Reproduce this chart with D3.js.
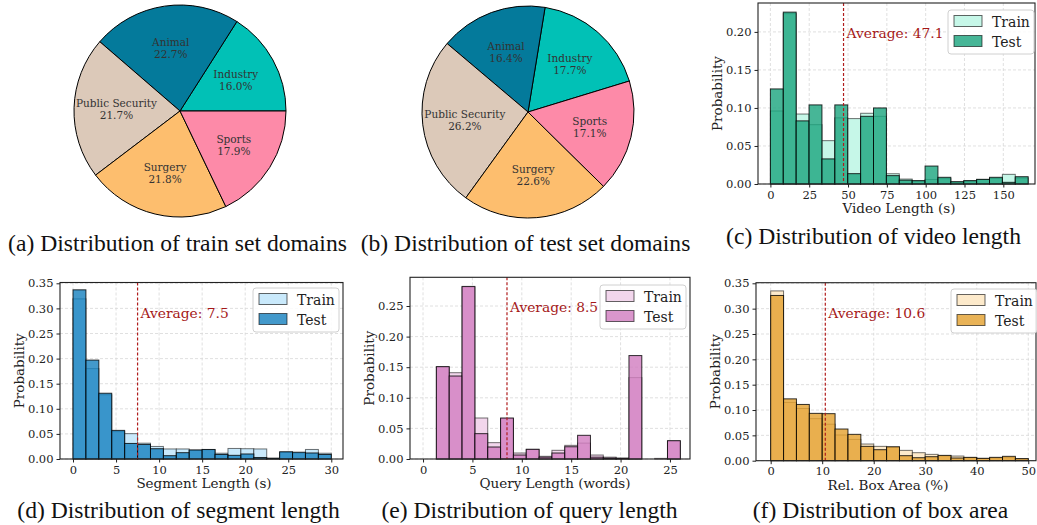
<!DOCTYPE html>
<html>
<head>
<meta charset="utf-8">
<script src="https://cdn.jsdelivr.net/npm/d3@7"></script>
<style>
body { margin: 0; background: #fff; }
</style>
</head>
<body>
<script>
var w = 1037;
var h = 525;

// pie data (matplotlib order, counter-clockwise)
var domains = ['Industry', 'Animal', 'Public Security', 'Surgery', 'Sports'];
var domainColors = ['#01c1b6', '#047a9b', '#dcc9b9', '#fdbe6e', '#fd8aa8'];
var trainShare = [16.0, 22.7, 21.7, 21.8, 17.9];
var testShare = [17.7, 16.4, 26.2, 22.6, 17.1];

// histogram data: first bin edge, bin width, probabilities per bin
var videoStart = 0, videoWidth = 8.3;
var videoTrain = [0.096, 0.224, 0.092, 0.078, 0.057, 0.087, 0.086, 0.093, 0.089, 0.0135, 0.0065, 0.004, 0.006, 0.007, 0.0026, 0.004, 0.006, 0.0074, 0.0127, 0.0079];
var videoTest  = [0.125, 0.226, 0.083, 0.104, 0.033, 0.104, 0.0136, 0.089, 0.100, 0.011, 0.005, 0.0044, 0.0236, 0.0088, 0.003, 0.0044, 0.0061, 0.0088, 0.0022, 0.0096];
var videoAvg = 47.1;

var segStart = 0, segWidth = 1.5;
var segTrain = [0.319, 0.180, 0.128, 0.0545, 0.0505, 0.0315, 0.025, 0.020, 0.020, 0.0175, 0.0185, 0.0115, 0.021, 0.0205, 0.020, 0.002, 0.013, 0.012, 0.019, 0.0115];
var segTest  = [0.337, 0.197, 0.131, 0.057, 0.031, 0.029, 0.0205, 0.0066, 0.0126, 0.018, 0.019, 0.009, 0.0073, 0.010, 0.003, 0.001, 0.0145, 0.0135, 0.012, 0.009];
var segAvg = 7.5;

var queryStart = 1.35, queryWidth = 1.3;
var queryTrain = [0.150, 0.141, 0.281, 0.067, 0.0267, 0.066, 0.0098, 0.0158, 0.0044, 0.0142, 0.0223, 0.026, 0.0065, 0.003, 0.0016, 0.133, 0, 0.001, 0.029];
var queryTest  = [0.151, 0.1356, 0.282, 0.0414, 0.0196, 0.067, 0.0065, 0.0158, 0.003, 0.0098, 0.020, 0.0387, 0.003, 0.0015, 0.001, 0.169, 0, 0, 0.030];
var queryAvg = 8.5;

var boxStart = 0, boxWidth = 2.5;
var boxTrain = [0.335, 0.115, 0.103, 0.083, 0.072, 0.0507, 0.042, 0.0329, 0.0283, 0.026, 0.0204, 0.0158, 0.0125, 0.0095, 0.0092, 0.006, 0.0046, 0.0053, 0.006, 0.004];
var boxTest  = [0.326, 0.122, 0.111, 0.0934, 0.0928, 0.0625, 0.052, 0.0283, 0.0217, 0.0276, 0.0099, 0.0059, 0.0079, 0.0105, 0.0053, 0.0066, 0.0046, 0.0066, 0.0086, 0.004];
var boxAvg = 10.6;

var captions = ['(a) Distribution of train set domains', '(b) Distribution of test set domains',
                '(c) Distribution of video length', '(d) Distribution of segment length',
                '(e) Distribution of query length', '(f) Distribution of box area'];

var serif = '"DejaVu Serif", serif';

var svg = d3.select('body').append('svg')
    .attr('width', w)
    .attr('height', h);

function drawPie(cx, cy, r, shares, startDeg) {
    var a0 = (90 - startDeg) * Math.PI / 180;
    var pie = d3.pie().sort(null).startAngle(a0).endAngle(a0 - 2 * Math.PI);
    var arcs = pie(shares);
    var arc = d3.arc().innerRadius(0).outerRadius(r);
    var lab = d3.arc().innerRadius(r * 0.6).outerRadius(r * 0.6);
    var g = svg.append('g').attr('transform', 'translate(' + cx + ',' + cy + ')');
    g.selectAll('path').data(arcs).enter().append('path')
        .attr('d', arc)
        .attr('fill', function(d, i) { return domainColors[i]; })
        .attr('stroke', '#000')
        .attr('stroke-width', 1);
    var t = g.selectAll('text').data(arcs).enter().append('text')
        .attr('text-anchor', 'middle')
        .style('font-family', serif)
        .style('font-size', '10.5px')
        .attr('fill', '#333')
        .attr('transform', function(d) { return 'translate(' + lab.centroid(d) + ')'; });
    t.append('tspan').attr('x', 0).attr('y', -2).text(function(d, i) { return domains[i]; });
    t.append('tspan').attr('x', 0).attr('y', 10).text(function(d) { return d.data.toFixed(1) + '%'; });
}

drawPie(180, 111, 106, trainShare, 0);
drawPie(528, 112, 106, testShare, 17);

function hist(o) {
    var x = d3.scaleLinear().domain(o.xDomain).range([o.left, o.right]);
    var y = d3.scaleLinear().domain(o.yDomain).range([o.bottom, o.top]);
    var g = svg.append('g');

    // grid
    g.selectAll('.gx').data(o.xTicks).enter().append('line')
        .attr('x1', x).attr('x2', x).attr('y1', o.top).attr('y2', o.bottom)
        .attr('stroke', '#d8d8d8').attr('stroke-dasharray', '3,2').attr('stroke-width', 0.8);
    g.selectAll('.gy').data(o.yTicks).enter().append('line')
        .attr('y1', y).attr('y2', y).attr('x1', o.left).attr('x2', o.right)
        .attr('stroke', '#d8d8d8').attr('stroke-dasharray', '3,2').attr('stroke-width', 0.8);

    var bins = o.train.map(function(v, i) {
        return { x0: o.start + i * o.width, x1: o.start + (i + 1) * o.width, tr: v, te: o.test[i] };
    });

    g.selectAll('.tr').data(bins.filter(function(d) { return d.tr > 0; })).enter().append('rect')
        .attr('x', function(d) { return x(d.x0); })
        .attr('width', function(d) { return x(d.x1) - x(d.x0); })
        .attr('y', function(d) { return y(d.tr); })
        .attr('height', function(d) { return y(0) - y(d.tr); })
        .attr('fill', o.trainColor)
        .attr('stroke', '#000').attr('stroke-opacity', 0.55).attr('stroke-width', 1);

    g.selectAll('.te').data(bins.filter(function(d) { return d.te > 0; })).enter().append('rect')
        .attr('x', function(d) { return x(d.x0); })
        .attr('width', function(d) { return x(d.x1) - x(d.x0); })
        .attr('y', function(d) { return y(d.te); })
        .attr('height', function(d) { return y(0) - y(d.te); })
        .attr('fill', o.testColor).attr('fill-opacity', 0.82)
        .attr('stroke', '#000').attr('stroke-opacity', 0.8).attr('stroke-width', 1);

    // average line
    g.append('line')
        .attr('x1', x(o.avg)).attr('x2', x(o.avg))
        .attr('y1', o.top).attr('y2', o.bottom)
        .attr('stroke', '#b01c1c').attr('stroke-width', 1.2).attr('stroke-dasharray', '3,2');
    g.append('text')
        .attr('x', x(o.avg) + 3).attr('y', o.top + 35)
        .style('font-family', serif).style('font-size', '13.8px')
        .attr('fill', '#a51818')
        .text('Average: ' + o.avg);

    // axes
    var ax = g.append('g').attr('transform', 'translate(0,' + o.bottom + ')')
        .call(d3.axisBottom(x).tickValues(o.xTicks).tickSize(3.5).tickPadding(3));
    var ay = g.append('g').attr('transform', 'translate(' + o.left + ',0)')
        .call(d3.axisLeft(y).tickValues(o.yTicks).tickSize(3.5).tickPadding(3).tickFormat(d3.format('.2f')));
    [ax, ay].forEach(function(a) {
        a.select('.domain').remove();
        a.selectAll('text').style('font-family', serif).style('font-size', '11.5px').attr('fill', '#222');
        a.selectAll('line').attr('stroke', '#222');
    });

    g.append('rect')
        .attr('x', o.left).attr('y', o.top)
        .attr('width', o.right - o.left).attr('height', o.bottom - o.top)
        .attr('fill', 'none').attr('stroke', '#222').attr('stroke-width', 1.1);

    g.append('text')
        .attr('x', o.xlabelX).attr('y', o.bottom + 29)
        .attr('text-anchor', 'middle')
        .style('font-family', serif).style('font-size', '13.5px')
        .attr('fill', '#222')
        .text(o.xlabel);
    g.append('text')
        .attr('transform', 'translate(' + (o.left - 41) + ',' + ((o.top + o.bottom) / 2) + ') rotate(-90)')
        .attr('text-anchor', 'middle').attr('dominant-baseline', 'central')
        .style('font-family', serif).style('font-size', '13.5px')
        .attr('fill', '#222')
        .text('Probability');

    // legend
    var lg = g.append('g').attr('transform', 'translate(' + o.legend[0] + ',' + o.legend[1] + ')');
    lg.append('rect').attr('width', 86).attr('height', 44).attr('rx', 3)
        .attr('fill', '#fff').attr('fill-opacity', 0.85)
        .attr('stroke', '#d0d0d0');
    [['Train', o.trainColor, 1], ['Test', o.testColor, 0.82]].forEach(function(e, i) {
        lg.append('rect').attr('x', 6).attr('y', 5.5 + i * 20).attr('width', 28).attr('height', 11)
            .attr('fill', e[1]).attr('fill-opacity', e[2])
            .attr('stroke', '#000').attr('stroke-opacity', 0.6);
        lg.append('text').attr('x', 44).attr('y', 16.5 + i * 20)
            .style('font-family', serif).style('font-size', '14px')
            .attr('fill', '#222').text(e[0]);
    });
}

hist({ left: 758, right: 1035, top: 3, bottom: 184,
       xDomain: [-7.98, 170.4], yDomain: [0, 0.238],
       xTicks: [0, 25, 50, 75, 100, 125, 150], yTicks: [0, 0.05, 0.10, 0.15, 0.20],
       start: videoStart, width: videoWidth, train: videoTrain, test: videoTest, avg: videoAvg,
       trainColor: '#c6f7e8', testColor: '#1fa680',
       xlabel: 'Video Length (s)', xlabelX: 899, legend: [948, 10] });

hist({ left: 60, right: 343, top: 282.5, bottom: 459,
       xDomain: [-1.51, 31.36], yDomain: [0, 0.3516],
       xTicks: [0, 5, 10, 15, 20, 25, 30], yTicks: [0, 0.05, 0.10, 0.15, 0.20, 0.25, 0.30, 0.35],
       start: segStart, width: segWidth, train: segTrain, test: segTest, avg: segAvg,
       trainColor: '#c9e9fb', testColor: '#1a82c0',
       xlabel: 'Segment Length (s)', xlabelX: 204, legend: [253, 288] });

hist({ left: 410, right: 690, top: 277.3, bottom: 459,
       xDomain: [-1.32, 27.03], yDomain: [0, 0.2969],
       xTicks: [0, 5, 10, 15, 20, 25], yTicks: [0, 0.05, 0.10, 0.15, 0.20, 0.25],
       start: queryStart, width: queryWidth, train: queryTrain, test: queryTest, avg: queryAvg,
       trainColor: '#f2d6ec', testColor: '#d27fc1',
       xlabel: 'Query Length (words)', xlabelX: 555, legend: [600, 285] });

hist({ left: 756, right: 1036, top: 282.7, bottom: 460.7,
       xDomain: [-2.85, 51.5], yDomain: [0, 0.3512],
       xTicks: [0, 10, 20, 30, 40, 50], yTicks: [0, 0.05, 0.10, 0.15, 0.20, 0.25, 0.30, 0.35],
       start: boxStart, width: boxWidth, train: boxTrain, test: boxTest, avg: boxAvg,
       trainColor: '#fdeacb', testColor: '#e4a232',
       xlabel: 'Rel. Box Area (%)', xlabelX: 888, legend: [951, 289] });

// captions
var capPos = [[177.5, 251], [525.5, 251], [873.5, 244], [178.5, 518], [529.5, 518], [880.5, 518]];
svg.selectAll('.cap').data(captions).enter().append('text')
    .attr('x', function(d, i) { return capPos[i][0]; })
    .attr('y', function(d, i) { return capPos[i][1]; })
    .attr('text-anchor', 'middle')
    .style('font-family', '"Liberation Serif", "Times New Roman", serif')
    .style('font-size', '23.6px')
    .attr('fill', '#111')
    .text(function(d) { return d; });
</script>
</body>
</html>
